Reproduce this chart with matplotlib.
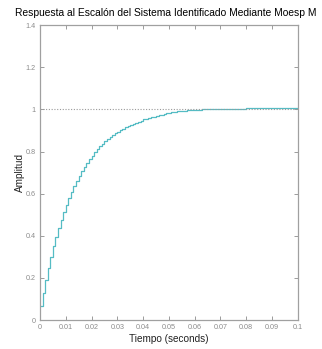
import numpy as np
import matplotlib.pyplot as plt

plt.rcParams['font.family'] = ['Liberation Sans', 'DejaVu Sans']

# Step response samples (sample time 0.001 s)
Ts = 0.001
respuesta = [
    0.065, 0.130, 0.191, 0.248, 0.301, 0.350, 0.395, 0.437, 0.477, 0.513,
    0.547, 0.579, 0.609, 0.636, 0.662, 0.685, 0.707, 0.728, 0.747, 0.764,
    0.781, 0.796, 0.811, 0.824, 0.836, 0.848, 0.858, 0.868, 0.877, 0.886,
    0.894, 0.901, 0.908, 0.915, 0.921, 0.926, 0.931, 0.936, 0.941, 0.946,
    0.952, 0.956, 0.959, 0.962, 0.965, 0.968, 0.971, 0.975, 0.978, 0.981,
    0.984, 0.986, 0.988, 0.990, 0.991, 0.993, 0.994, 0.995, 0.996, 0.997,
    0.998, 0.998, 0.999, 1.000, 1.000, 1.001, 1.001, 1.001, 1.002, 1.002,
    1.002, 1.003, 1.003, 1.003, 1.003, 1.004, 1.004, 1.004, 1.004, 1.004,
    1.005, 1.005, 1.005, 1.005, 1.005, 1.005, 1.006, 1.006, 1.006, 1.006,
    1.006, 1.006, 1.006, 1.006, 1.007, 1.007, 1.007, 1.007, 1.007, 1.007,
    1.007,
]
valor_final = 1.0

x_ticks = [0, 0.01, 0.02, 0.03, 0.04, 0.05, 0.06, 0.07, 0.08, 0.09, 0.1]
x_labels = ['0', '0.01', '0.02', '0.03', '0.04', '0.05', '0.06', '0.07', '0.08', '0.09', '0.1']
y_ticks = [0, 0.2, 0.4, 0.6, 0.8, 1, 1.2, 1.4]
y_labels = ['0', '0.2', '0.4', '0.6', '0.8', '1', '1.2', '1.4']

t = np.arange(len(respuesta)) * Ts

fig = plt.figure(figsize=(3.22, 3.49), dpi=100)
ax = fig.add_axes([0.124, 0.083, 0.801, 0.845])

gris = '#8c8c8c'
ax.step(t, respuesta, where='post', color='#55bcc4', lw=0.9)
ax.plot([0, 0.1], [valor_final, valor_final], ls=(0, (1, 1.5)), color='#9a9a9a', lw=0.8)

ax.set_xlim(0, 0.1)
ax.set_ylim(0, 1.4)
ax.set_xticks(x_ticks)
ax.set_xticklabels(x_labels)
ax.set_yticks(y_ticks)
ax.set_yticklabels(y_labels)
ax.tick_params(direction='in', length=3, width=0.6, colors=gris, labelsize=5.2,
               top=True, right=True, pad=3)
for s in ax.spines.values():
    s.set_color('#a0a0a0')
    s.set_linewidth(0.9)

ax.set_xlabel('Tiempo (seconds)', fontsize=7.2, color='#222222', labelpad=2)
ax.set_ylabel('Amplitud', fontsize=7.2, color='#222222')
ax.yaxis.set_label_coords(-0.058, 0.5)

fig.text(166 / 322, 0.962, 'Respuesta al Escalón del Sistema Identificado Mediante Moesp M',
         ha='center', va='center', fontsize=7.4, color='black')

fig.savefig('out.png', dpi=100)
